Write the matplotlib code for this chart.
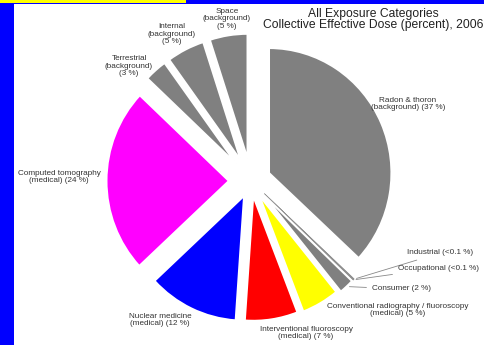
import matplotlib.pyplot as plt
import numpy as np
from matplotlib.patches import Rectangle

plt.rcParams['font.family'] = ['Liberation Sans', 'DejaVu Sans']

# slices, clockwise from 12 o'clock
labels = ["Radon & thoron\n(background) (37 %)", "Industrial (<0.1 %)", "Occupational (<0.1 %)",
          "Consumer (2 %)", "Conventional radiography / fluoroscopy\n(medical) (5 %)",
          "Interventional fluoroscopy\n(medical) (7 %)", "Nuclear medicine\n(medical) (12 %)",
          "Computed tomography\n(medical) (24 %)", "Terrestrial\n(background)\n(3 %)",
          "Internal\n(background)\n(5 %)", "Space\n(background)\n(5 %)"]
values = [37, 0.1, 0.1, 2, 5, 7, 12, 24, 3, 5, 5]
colors = ["#808080", "#808080", "#808080", "#808080", "#FFFF00", "#FF0000", "#0000FF",
          "#FF00FF", "#808080", "#808080", "#808080"]
explode = [0.16, 0.15, 0.15, 0.15, 0.13, 0.12, 0.13, 0.18, 0.18, 0.18, 0.18]

W, H = 484, 345
fig = plt.figure(figsize=(W / 100, H / 100), dpi=100, facecolor="#0000FF")
fig.patches.append(Rectangle((14 / W, 0), 1, 1 - 4 / H, transform=fig.transFigure,
                             facecolor="white", edgecolor="none", zorder=-10))
fig.patches.append(Rectangle((0, 1 - 3 / H), 186 / W, 3 / H, transform=fig.transFigure,
                             facecolor="#FFFF00", edgecolor="none", zorder=-10))


def px(x, y):
    return x / W, 1 - y / H


ax = fig.add_axes([0, 0, 1, 1])
ax.patch.set_alpha(0)
wedges, _ = ax.pie(values, colors=colors, explode=explode, startangle=90, counterclock=False,
                   wedgeprops=dict(edgecolor="white", linewidth=1.5))
for w in wedges[1:3]:
    w.set_edgecolor("#909090")
    w.set_linewidth(0.6)

# pie centre at (251, 181) px, radius ~122 px wide, ~125 px tall
cx, cy, rx, ry = 251, 181, 122.5, 125
ax.set_aspect("auto")
ax.set_xlim(-cx / rx, (W - cx) / rx)
ax.set_ylim(-(H - cy) / ry, cy / ry)
ax.axis("off")

fig.text(*px(373, 14), "All Exposure Categories", ha="center", va="center", fontsize=8.7, color="#222222")
fig.text(*px(373, 25), "Collective Effective Dose (percent), 2006", ha="center", va="center",
         fontsize=8.7, color="#222222")

txt = dict(fontsize=5.9, color="#333333", linespacing=1.15)
free_pos = {0: (408, 104), 4: (398, 310), 5: (306, 333), 6: (160, 320), 7: (59, 177),
            8: (129, 66), 9: (172, 34), 10: (227, 19)}
for i, (x, y) in free_pos.items():
    fig.text(*px(x, y), labels[i], ha="center", va="center", **txt)

# leader lines for the thin slices
lead_pos = {1: (407, 253), 2: (398, 268), 3: (372, 289)}
for i, (x, y) in lead_pos.items():
    w = wedges[i]
    a = np.radians((w.theta1 + w.theta2) / 2)
    pt = (w.center[0] + w.r * np.cos(a), w.center[1] + w.r * np.sin(a))
    ax.annotate(labels[i], xy=pt, xycoords="data", xytext=px(x, y), textcoords="figure fraction",
                ha="left", va="center", arrowprops=dict(arrowstyle="-", color="#888888", lw=0.6), **txt)

fig.savefig("out.png", dpi=100, facecolor=fig.get_facecolor())
